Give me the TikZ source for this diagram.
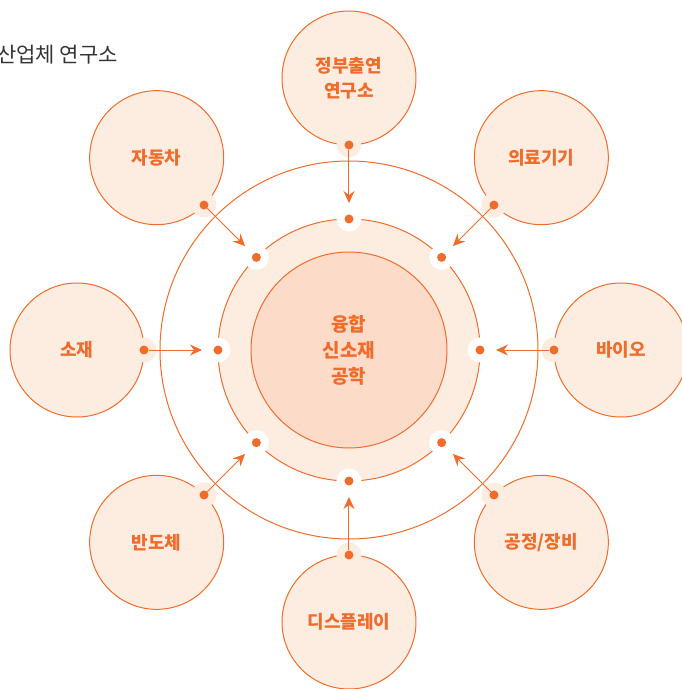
\documentclass[tikz,border=0pt]{standalone}
\usepackage{fontspec}
\setmainfont{Noto Sans CJK KR}
\usetikzlibrary{arrows.meta}

\definecolor{accent}{RGB}{239,108,44}
\definecolor{peach}{RGB}{253,237,225}
\definecolor{core}{RGB}{252,219,200}

\begin{document}
\begin{tikzpicture}[x=1pt,y=1pt,
  field/.style={circle,draw=accent,line width=1pt,fill=peach,minimum size=134pt,
    inner sep=0pt,align=center,text=accent,font=\bfseries\fontsize{18}{25}\selectfont},
  dot/.style={circle,fill=accent,minimum size=9pt,inner sep=0pt},
  flow/.style={draw=accent,line width=1pt,-{Stealth[length=12pt,width=11pt,inset=4pt]}}]

  \useasboundingbox (-349,-339) rectangle (333,350);

  % Title
  \node[anchor=east,inner sep=0pt,text=black!80,font=\fontsize{21}{24}\selectfont] (title) at (-231,295) {산업체 연구소};

  % Rings
  \draw[accent,line width=1pt] (0,0) circle (189pt);
  \node[circle,draw=accent,line width=1pt,fill=peach,minimum size=262pt] (ring) at (0,0) {};
  \node[circle,draw=accent,line width=1pt,fill=core,minimum size=196pt,align=center,
    text=accent,font=\bfseries\fontsize{19}{26}\selectfont] (core) at (0,0) {융합\\신소재\\공학};

  % Fields around the core
  \foreach \a/\t [count=\i] in {90/{정부출연\\연구소}, 45/의료기기, 0/바이오, -45/{공정/장비},
      -90/디스플레이, -135/반도체, 180/소재, 135/자동차}
  {
    \node[field] (out\i) at (\a:272) {\t};
    \fill[peach] (\a:205) circle (12.5pt);
    \node[dot] (od\i) at (\a:205) {};
    \fill[white] (\a:131) circle (12.5pt);
    \node[dot] (id\i) at (\a:131) {};
    \coordinate (tip\i) at (\a:147);
    \draw[flow] (od\i) -- (tip\i);
  }

\end{tikzpicture}
\end{document}
